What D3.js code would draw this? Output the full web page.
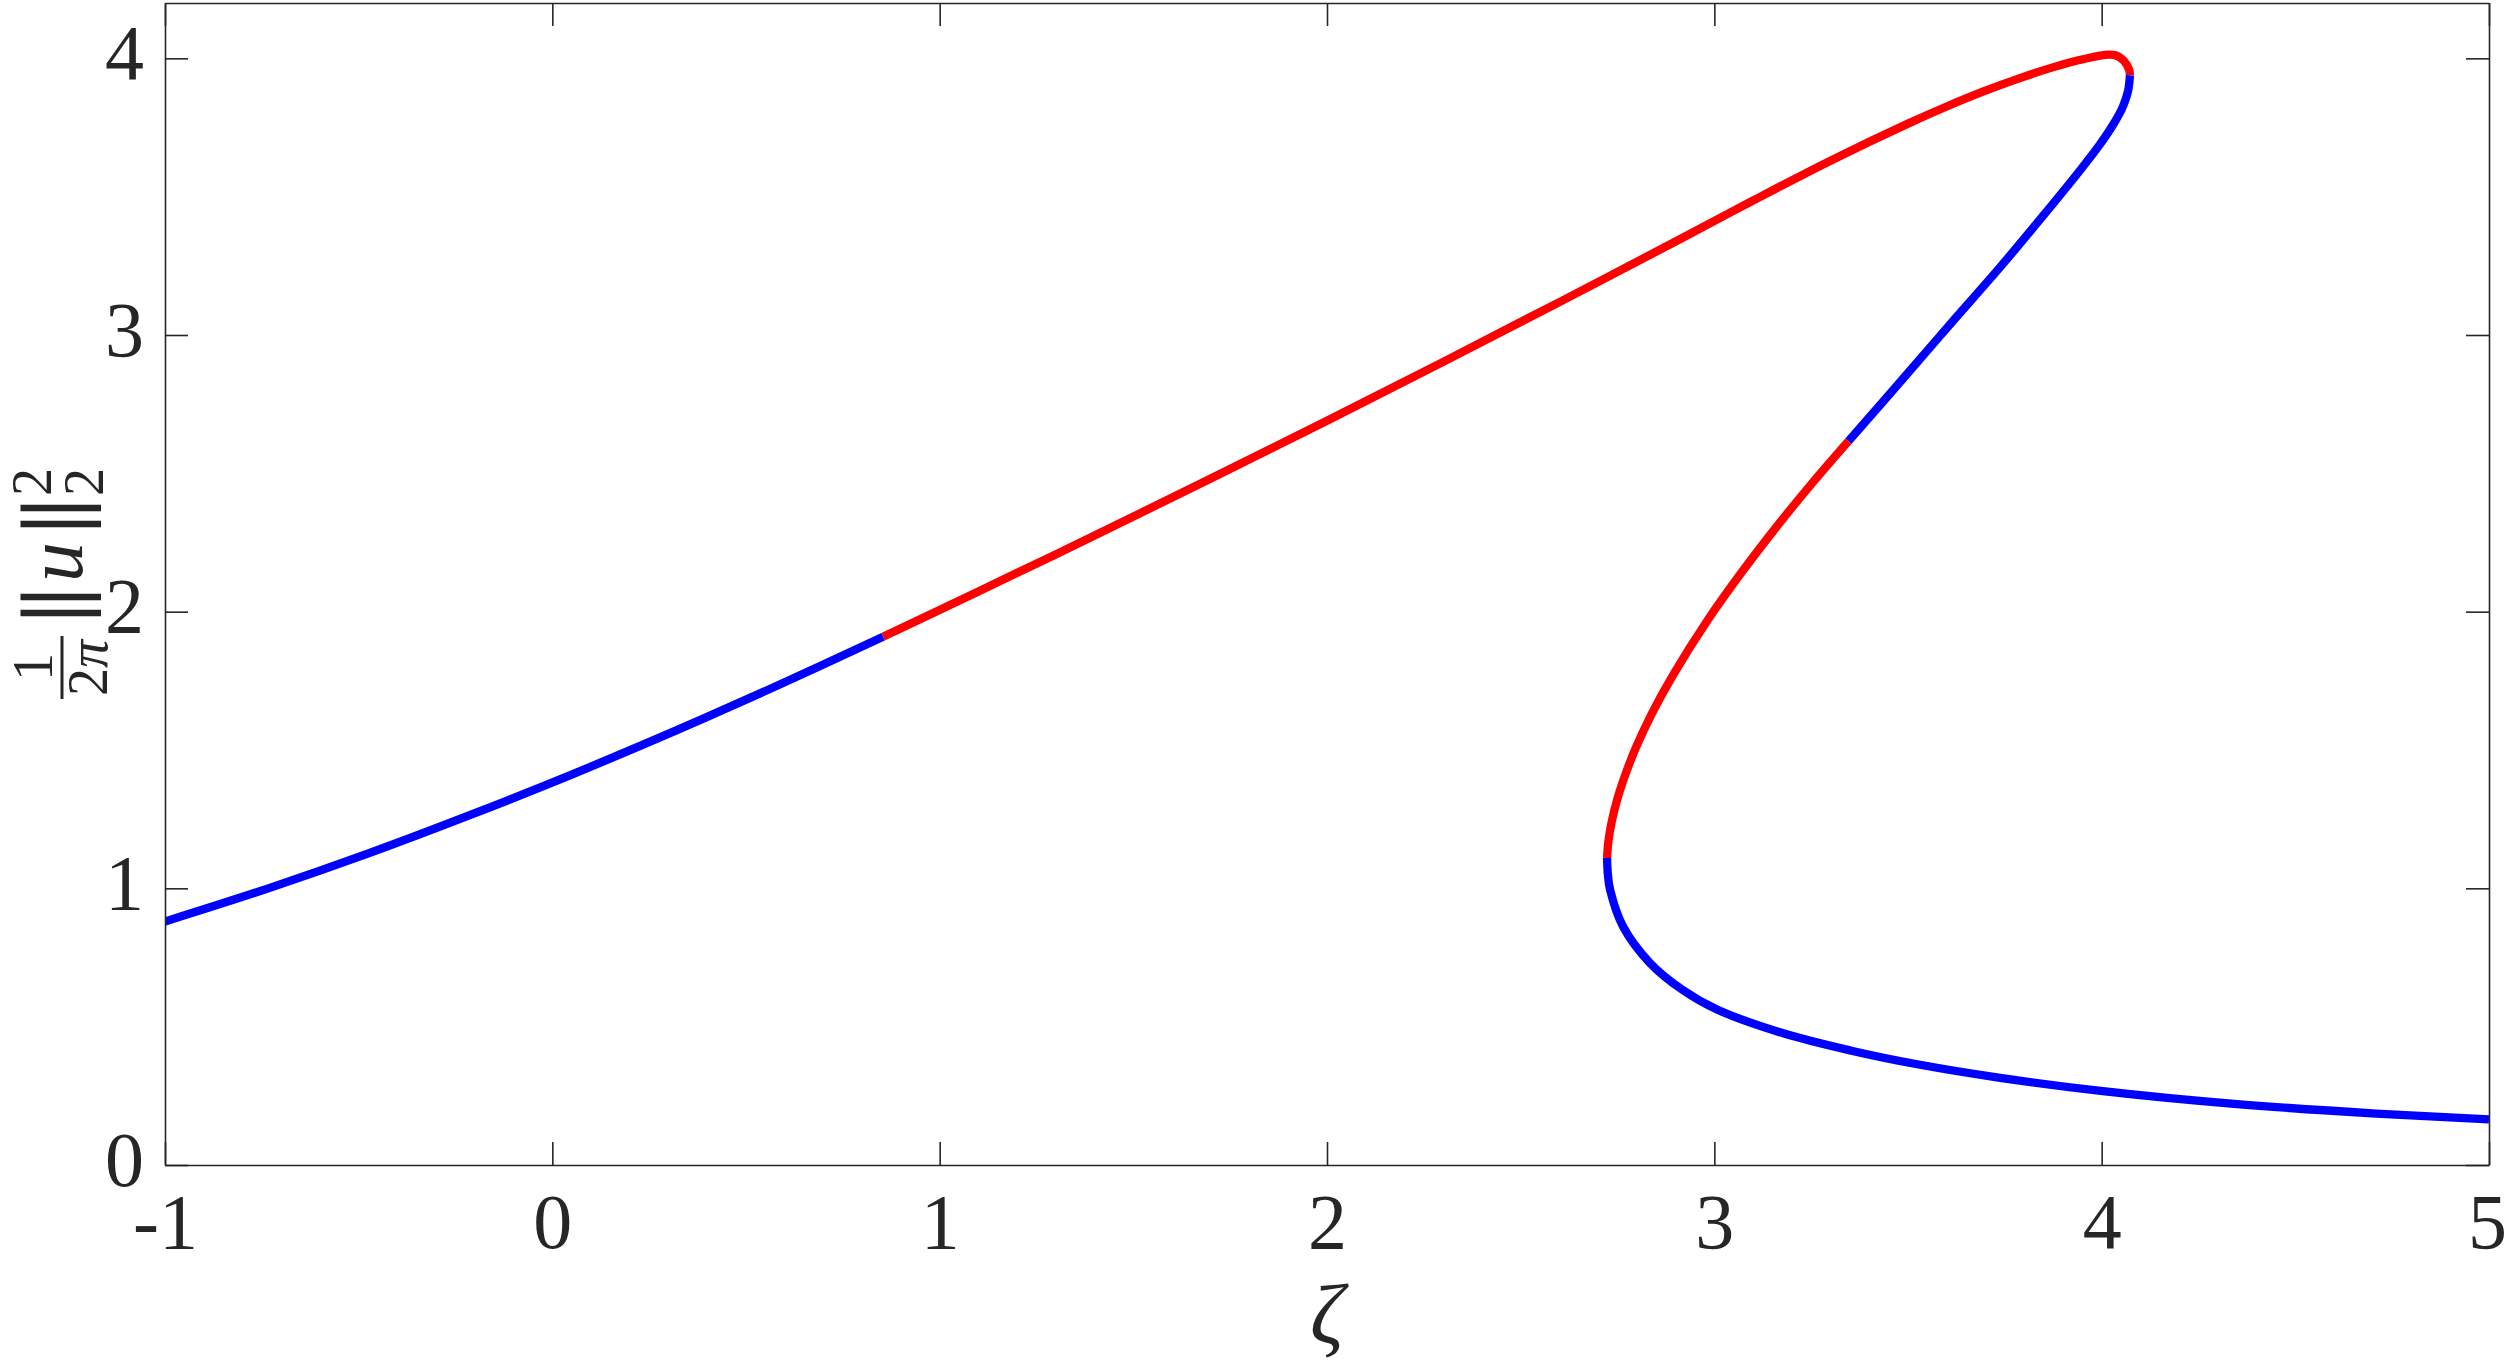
<!DOCTYPE html>
<html>
<head>
<meta charset="utf-8">
<script src="https://cdn.jsdelivr.net/npm/d3@7"></script>
<style>
  html, body { margin: 0; padding: 0; background: #ffffff; }
  svg { display: block; }
</style>
</head>
<body>
<div id="chart"></div>
<script>
// ---------------- data ----------------
const xTicks = [-1, 0, 1, 2, 3, 4, 5];
const yTicks = [0, 1, 2, 3, 4];
const xDomain = [-1, 5];
const yDomain = [0, 4.2];

// branch pieces in order along the continuation curve: [zeta, (1/2pi)||u||_2^2]
const stableLeft = [
  [-1.000, 0.880], [-0.737, 0.998], [-0.473, 1.127], [-0.210, 1.266],
  [0.053, 1.413], [0.317, 1.569], [0.580, 1.732], [0.854, 1.909]
];
const unstableUpper = [
  [0.854, 1.909], [1.100, 2.073], [1.400, 2.275], [1.700, 2.481],
  [2.000, 2.690], [2.300, 2.903], [2.600, 3.119], [2.900, 3.338],
  [3.100, 3.486], [3.300, 3.630], [3.500, 3.764], [3.600, 3.826],
  [3.700, 3.883], [3.800, 3.934], [3.880, 3.970], [3.940, 3.993],
  [4.005, 4.012], [4.033, 4.012], [4.057, 3.992], [4.071, 3.958],
  [4.073, 3.939]
];
const stableMiddle = [
  [4.073, 3.939], [4.068, 3.881], [4.054, 3.823], [4.029, 3.759],
  [3.995, 3.688], [3.948, 3.602], [3.850, 3.433], [3.734, 3.239],
  [3.615, 3.049], [3.497, 2.858], [3.346, 2.616]
];
const unstableMiddle = [
  [3.346, 2.616], [3.251, 2.462], [3.167, 2.318], [3.072, 2.145],
  [2.983, 1.970], [2.893, 1.770], [2.838, 1.630], [2.798, 1.510],
  [2.770, 1.410], [2.749, 1.320], [2.735, 1.240], [2.7265, 1.170],
  [2.723, 1.110]
];
const stableLower = [
  [2.723, 1.110], [2.7252, 1.050], [2.731, 0.994], [2.765, 0.860],
  [2.834, 0.730], [2.919, 0.632], [3.007, 0.562], [3.178, 0.476],
  [3.351, 0.414], [3.524, 0.364], [3.738, 0.315], [4.003, 0.267],
  [4.342, 0.221], [4.709, 0.186], [5.000, 0.165]
];
const segmentList = [stableLeft, unstableUpper, stableMiddle, unstableMiddle, stableLower];
const segmentStable = [true, false, true, false, true];

// ---------------- layout ----------------
const W = 2507, H = 1365;
const plot = { left: 165, right: 2489, top: 3, bottom: 1165 };
const axisColor = "#262626";
const serif = "'Liberation Serif', 'Times New Roman', serif";

const svg = d3.select("#chart").append("svg")
  .attr("width", W).attr("height", H)
  .attr("viewBox", `0 0 ${W} ${H}`);
svg.append("rect").attr("width", W).attr("height", H).attr("fill", "#ffffff");

const x = d3.scaleLinear().domain(xDomain).range([plot.left, plot.right]);
const y = d3.scaleLinear().domain(yDomain).range([plot.bottom, plot.top]);

svg.append("clipPath").attr("id", "plotclip")
  .append("rect")
  .attr("x", plot.left).attr("y", plot.top)
  .attr("width", plot.right - plot.left).attr("height", plot.bottom - plot.top);

// ---------------- curves ----------------
const line = d3.line()
  .x(d => x(d[0]))
  .y(d => y(d[1]))
  .curve(d3.curveCatmullRom.alpha(0.5));

const curveG = svg.append("g").attr("clip-path", "url(#plotclip)");
segmentList.forEach((pts, i) => {
  curveG.append("path")
    .attr("d", line(pts))
    .attr("fill", "none")
    .attr("stroke", segmentStable[i] ? "#0000ff" : "#ff0000")
    .attr("stroke-width", 8.3)
    .attr("stroke-linejoin", "round")
    .attr("stroke-linecap", "butt");
});

// ---------------- axes ----------------
const fmt = d => (d < 0 ? "-" + Math.abs(d) : String(d));
const tickLen = 23;

function styleAxis(g) {
  g.attr("color", axisColor);
  g.selectAll("line, path").attr("stroke-width", 1.6);
}

const gBottom = svg.append("g")
  .attr("transform", `translate(0,${plot.bottom})`)
  .call(d3.axisBottom(x).tickValues(xTicks).tickSize(-tickLen).tickSizeOuter(0).tickFormat(fmt));
styleAxis(gBottom);
gBottom.selectAll("text")
  .attr("y", 83).attr("dy", null)
  .attr("x", (d, i, n) => (i === n.length - 1 ? -2 : 0))
  .attr("font-family", serif).attr("font-size", 78)
  .attr("fill", axisColor);

const gTop = svg.append("g")
  .attr("transform", `translate(0,${plot.top})`)
  .call(d3.axisTop(x).tickValues(xTicks).tickSize(-tickLen).tickSizeOuter(0).tickFormat(""));
styleAxis(gTop);

const gLeft = svg.append("g")
  .attr("transform", `translate(${plot.left},0)`)
  .call(d3.axisLeft(y).tickValues(yTicks).tickSize(-tickLen).tickSizeOuter(0).tickFormat(fmt));
styleAxis(gLeft);
gLeft.selectAll("text")
  .attr("x", -21).attr("y", 20).attr("dy", null)
  .attr("text-anchor", "end")
  .attr("font-family", serif).attr("font-size", 78)
  .attr("fill", axisColor);

const gRight = svg.append("g")
  .attr("transform", `translate(${plot.right},0)`)
  .call(d3.axisRight(y).tickValues(yTicks).tickSize(-tickLen).tickSizeOuter(0).tickFormat(""));
styleAxis(gRight);

// ---------------- x label ----------------
svg.append("text")
  .attr("x", (plot.left + plot.right) / 2)
  .attr("y", 1343)
  .attr("text-anchor", "middle")
  .attr("font-family", serif)
  .attr("font-style", "italic")
  .attr("font-size", 84)
  .attr("fill", axisColor)
  .text("ζ");

// ---------------- y label: (1/2π) ||u||_2^2 ----------------
const yl = svg.append("g")
  .attr("transform", `translate(82,${(plot.top + plot.bottom) / 2}) rotate(-90)`)
  .attr("fill", axisColor)
  .attr("font-family", serif);

yl.append("text").attr("x", -83).attr("y", -30).attr("text-anchor", "middle")
  .attr("font-size", 56).text("1");
yl.append("line").attr("x1", -115).attr("x2", -52).attr("y1", -20).attr("y2", -20)
  .attr("stroke", axisColor).attr("stroke-width", 3);
const den = yl.append("text").attr("x", -84).attr("y", 25).attr("text-anchor", "middle")
  .attr("font-size", 56);
den.append("tspan").text("2");
den.append("tspan").attr("font-style", "italic").text("π");

const barFont = "'DejaVu Serif', serif";
[-29, -13, 60, 76].forEach(bx => {
  yl.append("text").attr("x", bx).attr("y", 0).attr("text-anchor", "middle")
    .attr("font-family", barFont).attr("font-size", 80).text("|");
});
yl.append("text").attr("x", 22).attr("y", 0).attr("text-anchor", "middle")
  .attr("font-size", 80).attr("font-style", "italic").text("u");
yl.append("text").attr("x", 102).attr("y", -31).attr("text-anchor", "middle")
  .attr("font-size", 56).text("2");
yl.append("text").attr("x", 102).attr("y", 21).attr("text-anchor", "middle")
  .attr("font-size", 56).text("2");
</script>
</body>
</html>
